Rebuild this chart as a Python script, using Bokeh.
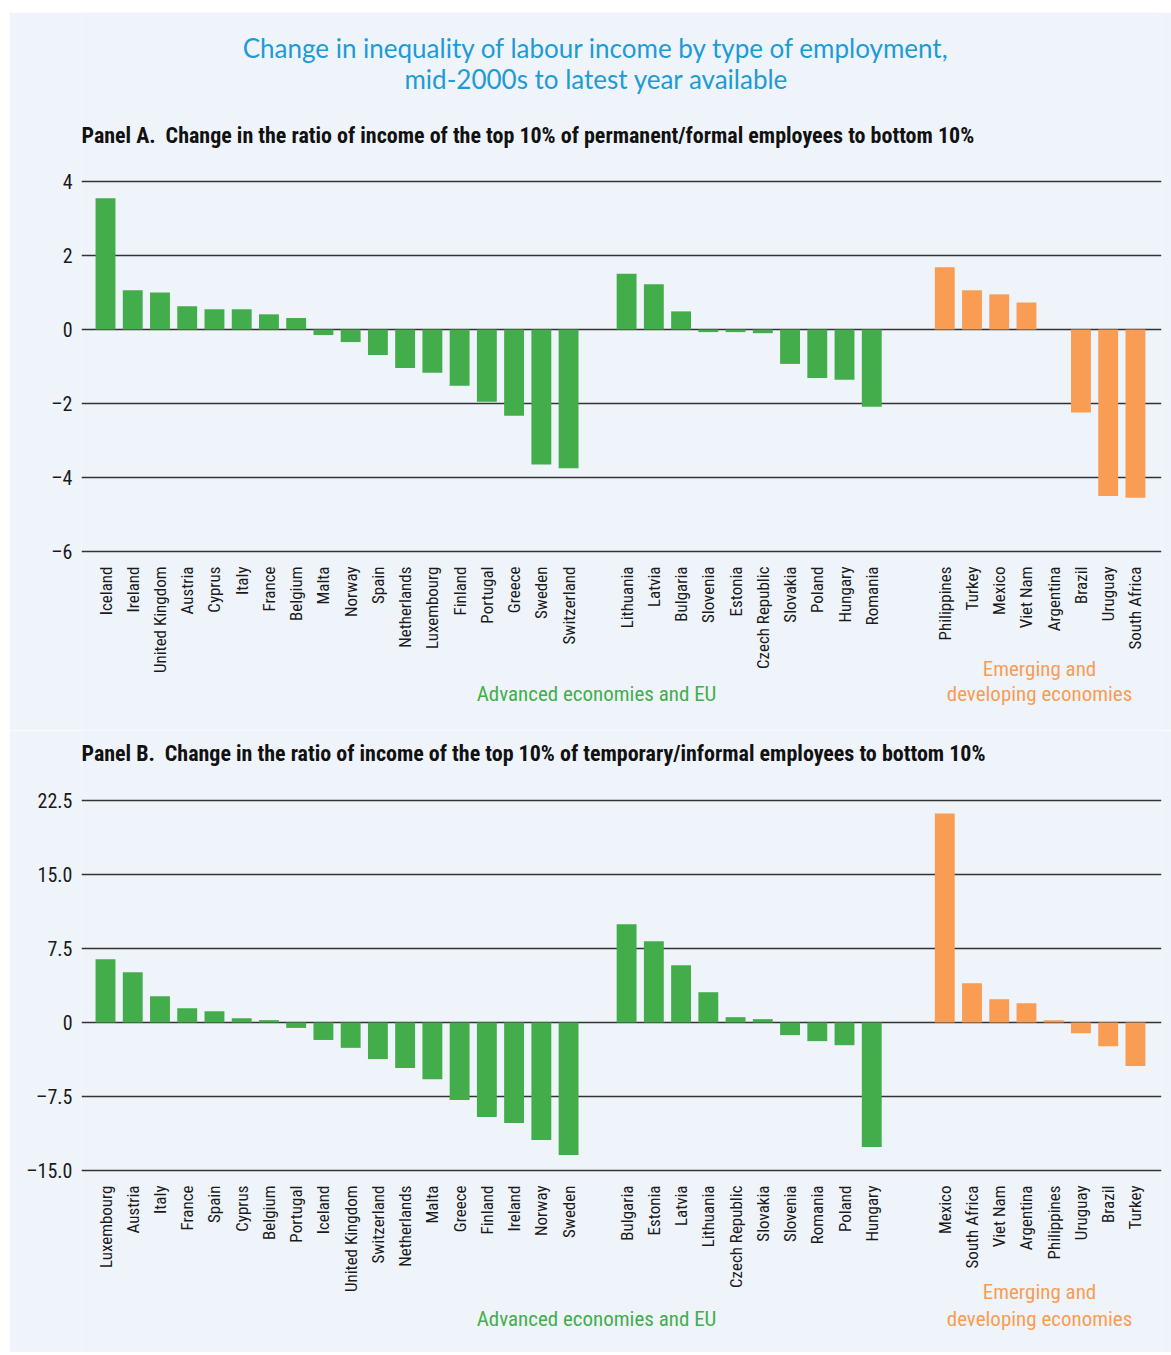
import math
from bokeh.plotting import figure
from bokeh.layouts import column
from bokeh.models import ColumnDataSource, FixedTicker, Label, Range1d
from bokeh.embed import file_html
from bokeh.resources import INLINE

# ---------------- DATA ----------------
a_adv_names = ["Iceland", "Ireland", "United Kingdom", "Austria", "Cyprus", "Italy", "France",
               "Belgium", "Malta", "Norway", "Spain", "Netherlands", "Luxembourg", "Finland",
               "Portugal", "Greece", "Sweden", "Switzerland"]
a_adv_vals = [3.55, 1.06, 1.00, 0.63, 0.55, 0.55, 0.41, 0.31, -0.15, -0.34, -0.69, -1.04,
              -1.17, -1.52, -1.95, -2.33, -3.65, -3.75]
a_eu_names = ["Lithuania", "Latvia", "Bulgaria", "Slovenia", "Estonia", "Czech Republic",
              "Slovakia", "Poland", "Hungary", "Romania"]
a_eu_vals = [1.51, 1.22, 0.49, -0.07, -0.07, -0.10, -0.93, -1.31, -1.36, -2.09]
a_em_names = ["Philippines", "Turkey", "Mexico", "Viet Nam", "Argentina", "Brazil", "Uruguay",
              "South Africa"]
a_em_vals = [1.68, 1.06, 0.95, 0.73, 0.0, -2.24, -4.50, -4.55]

b_adv_names = ["Luxembourg", "Austria", "Italy", "France", "Spain", "Cyprus", "Belgium",
               "Portugal", "Iceland", "United Kingdom", "Switzerland", "Netherlands", "Malta",
               "Greece", "Finland", "Ireland", "Norway", "Sweden"]
b_adv_vals = [6.41, 5.09, 2.66, 1.45, 1.15, 0.44, 0.24, -0.55, -1.77, -2.57, -3.71, -4.62,
              -5.74, -7.86, -9.58, -10.19, -11.91, -13.43]
b_eu_names = ["Bulgaria", "Estonia", "Latvia", "Lithuania", "Czech Republic", "Slovakia",
              "Slovenia", "Romania", "Poland", "Hungary"]
b_eu_vals = [9.95, 8.23, 5.80, 3.07, 0.54, 0.34, -1.28, -1.89, -2.30, -12.62]
b_em_names = ["Mexico", "South Africa", "Viet Nam", "Argentina", "Philippines", "Uruguay",
              "Brazil", "Turkey"]
b_em_vals = [21.18, 3.98, 2.36, 1.95, 0.24, -1.08, -2.40, -4.42]

a_ticks = [-6, -4, -2, 0, 2, 4]
a_tick_labels = ["\u20136", "\u20134", "\u20132", "0", "2", "4"]
b_ticks = [-15.0, -7.5, 0, 7.5, 15.0, 22.5]
b_tick_labels = ["\u201315.0", "\u20137.5", "0", "7.5", "15.0", "22.5"]

title_lines = ["Change in inequality of labour income by type of employment,",
               "mid-2000s to latest year available"]
a_title = "Panel A.\u2002Change in the ratio of income of the top 10% of permanent/formal employees to bottom 10%"
b_title = "Panel B.\u2002Change in the ratio of income of the top 10% of temporary/informal employees to bottom 10%"
grp_adv = "Advanced economies and EU"
grp_em = ["Emerging and", "developing economies"]

# ---------------- STYLE / LAYOUT ----------------
BG = "#eff4fb"
GREEN = "#42ad4a"
ORANGE = "#f89d53"
TXT = "#1a1a1a"
NARROW = "'Roboto Condensed', 'Liberation Sans Narrow', 'DejaVu Sans Condensed', Lato, sans-serif"
TITLE_FONT = "Lato"

PAGE_L, PAGE_T = 9, 12          # where the light panel starts on the page
W = 1162
FRAME_L_PX, FRAME_R_PX = 81, 1161
FIRST_PX, STEP_PX = 105, 27.24
GAP1, GAP2 = 2.13, 2.68
BAR_W = 0.73


def positions(n1, n2, n3):
    xs = [float(i) for i in range(n1)]
    s2 = xs[-1] + GAP1
    xs2 = [round(s2 + j, 3) for j in range(n2)]
    s3 = xs2[-1] + GAP2
    xs3 = [round(s3 + k, 3) for k in range(n3)]
    return xs, xs2, xs3


def px_to_x(px):
    return (px - FIRST_PX) / STEP_PX


def make_panel(names, vals, ticks, tick_labels, y0, y1, canvas_top, canvas_bottom,
               grid_top, grid_bottom, ptitle, title_y, grp_ys, main_title=None):
    n1, n2, n3 = len(names[0]), len(names[1]), len(names[2])
    xs1, xs2, xs3 = positions(n1, n2, n3)
    xs = xs1 + xs2 + xs3
    all_names = names[0] + names[1] + names[2]
    all_vals = vals[0] + vals[1] + vals[2]
    colors = [GREEN] * (n1 + n2) + [ORANGE] * n3
    src = ColumnDataSource(dict(x=xs, v=all_vals, c=colors))

    ppu = (grid_bottom - grid_top) / (y1 - y0)

    def py_to_y(py):
        return y1 + (grid_top - py) / ppu

    H = canvas_bottom - canvas_top
    p = figure(width=W, height=H,
               x_range=Range1d(px_to_x(FRAME_L_PX), px_to_x(FRAME_R_PX)),
               y_range=Range1d(py_to_y(canvas_bottom), py_to_y(canvas_top)),
               output_backend="svg", toolbar_location=None, title=None,
               min_border_left=FRAME_L_PX - PAGE_L, min_border_right=W - (FRAME_R_PX - PAGE_L),
               min_border_top=0, min_border_bottom=0)
    p.background_fill_color = BG
    p.border_fill_color = BG
    p.outline_line_color = None

    p.vbar(x="x", top="v", width=BAR_W, fill_color="c", line_color=None, source=src)

    # x axis pinned at the lowest gridline
    p.xaxis.fixed_location = y0
    p.xaxis.ticker = FixedTicker(ticks=xs)
    p.xaxis.major_label_overrides = {x: n for x, n in zip(xs, all_names)}
    p.xaxis.major_label_orientation = math.pi / 2
    p.xaxis.major_label_standoff = 9
    p.xaxis.major_label_text_font = NARROW
    p.xaxis.major_label_text_font_size = "17px"
    p.xaxis.major_label_text_color = TXT
    p.xaxis.axis_line_color = None
    p.xaxis.major_tick_line_color = None
    p.xaxis.minor_tick_line_color = None

    p.yaxis.ticker = FixedTicker(ticks=ticks)
    p.yaxis.major_label_overrides = {t: l for t, l in zip(ticks, tick_labels)}
    p.yaxis.major_label_standoff = 3
    p.yaxis.major_label_text_font = NARROW
    p.yaxis.major_label_text_font_size = "20px"
    p.yaxis.major_label_text_color = TXT
    p.yaxis.axis_line_color = None
    p.yaxis.major_tick_line_color = None
    p.yaxis.minor_tick_line_color = None

    p.xgrid.visible = False
    p.ygrid.ticker = FixedTicker(ticks=ticks)
    p.ygrid.grid_line_color = "#333333"
    p.ygrid.grid_line_width = 1.3

    # texts (data units, inside the frame)
    if main_title:
        for line, ypx in zip(main_title, [47, 78]):
            p.add_layout(Label(x=px_to_x(596), y=py_to_y(ypx), text=line,
                               text_align="center", text_baseline="middle",
                               text_font=TITLE_FONT, text_font_size="26px",
                               text_color="#1e9bd7"))
    p.add_layout(Label(x=px_to_x(FRAME_L_PX), y=py_to_y(title_y), text=ptitle,
                       text_align="left", text_baseline="middle",
                       text_font=NARROW, text_font_size="22px", text_font_style="bold",
                       text_color="#111111"))
    p.add_layout(Label(x=px_to_x(596), y=py_to_y(grp_ys[1]), text=grp_adv,
                       text_align="center", text_baseline="middle",
                       text_font=NARROW, text_font_size="21px", text_color="#43ae4b"))
    for line, ypx in zip(grp_em, grp_ys):
        p.add_layout(Label(x=px_to_x(1039), y=py_to_y(ypx), text=line,
                           text_align="center", text_baseline="middle",
                           text_font=NARROW, text_font_size="21px", text_color=ORANGE))
    return p


pa = make_panel([a_adv_names, a_eu_names, a_em_names], [a_adv_vals, a_eu_vals, a_em_vals],
                a_ticks, a_tick_labels, -6, 4, PAGE_T, 730, 181, 551, a_title, 135, [668, 693],
                main_title=title_lines)
pb = make_panel([b_adv_names, b_eu_names, b_em_names], [b_adv_vals, b_eu_vals, b_em_vals],
                b_ticks, b_tick_labels, -15.0, 22.5, 730, 1352, 800, 1170, b_title, 753,
                [1291, 1318])

layout = column(pa, pb, spacing=0, margin=(PAGE_T, 0, 0, PAGE_L))
open("out.html", "w").write(file_html(layout, INLINE))
